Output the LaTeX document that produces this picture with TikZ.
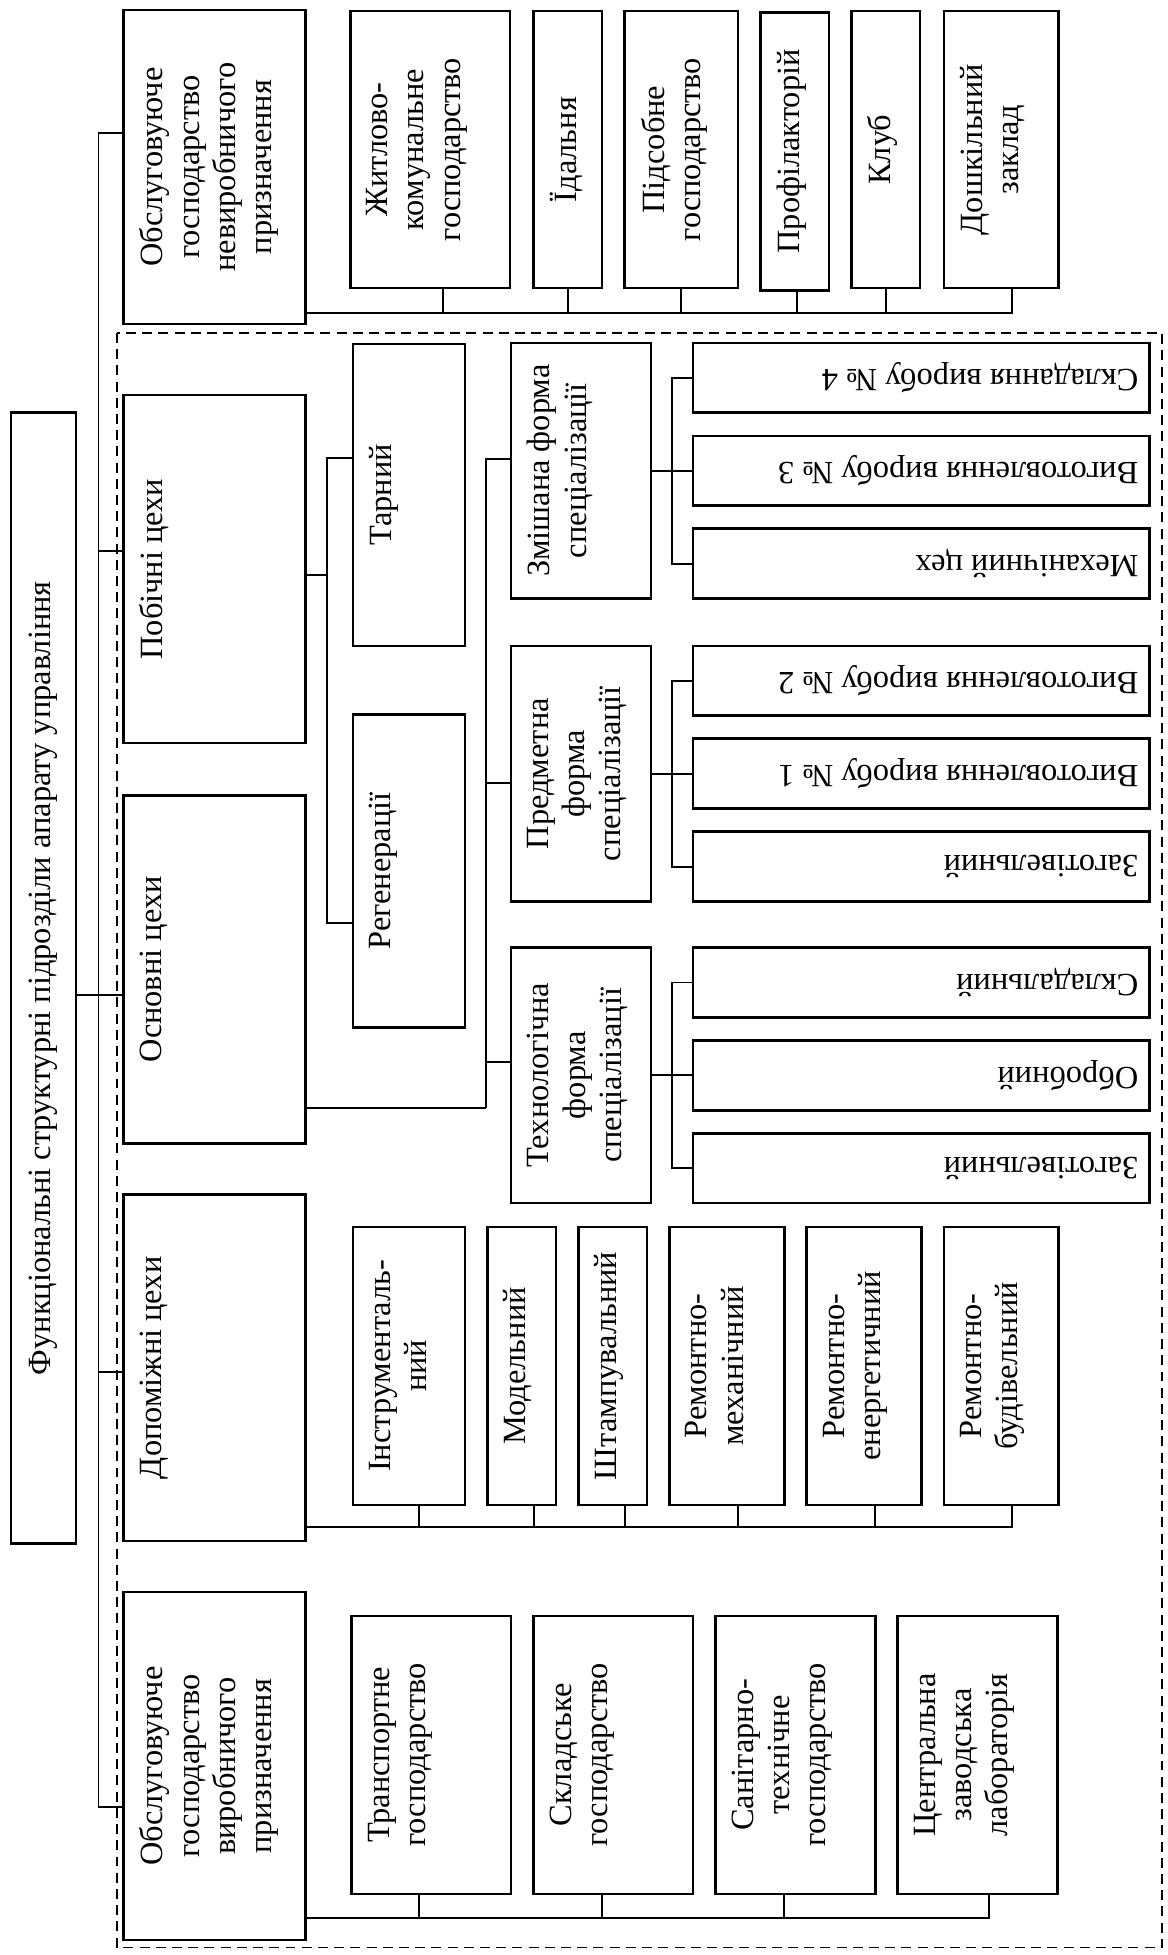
\documentclass[tikz,border=0pt]{standalone}
\usepackage{fontspec}
\setmainfont{Liberation Serif}
\usepackage{graphicx}
\usepackage{tikz}
\usetikzlibrary{positioning,calc}
\newlength{\px}\setlength{\px}{0.5pt}
% #1 length along the text, #2 thickness of the box
\newcommand{\vlab}[3]{\rotatebox{90}{\parbox[c][#2\px][t]{#1\px}{\centering\vspace*{6.5pt}#3}}}
\newcommand{\hlab}[3]{\rotatebox{180}{\parbox[c][#2\px][c]{#1\px}{\noindent\hspace*{9\px}#3}}}

\begin{document}
\begin{tikzpicture}[x=0.5pt,y=-0.5pt,
  font=\fontsize{13}{14.5}\selectfont,
  orgbox/.style={draw,line width=1pt,inner sep=0pt,anchor=north west},
  link/.style={line width=0.8pt},
  zone/.style={line width=0.6pt,dash pattern=on 4pt off 2.5pt}]
  \useasboundingbox (0,0) rectangle (936,1568);
  \draw[zone] (94,267) rectangle (932,1562);
  % title
  \node[orgbox] (title) at (8,330) {\rotatebox{90}{\parbox[c][52\px][c]{907\px}{\centering Функціональні структурні підрозділи апарату управління}}};
  % left column
  \node[orgbox] (o1) at (98,7) {\vlab{252}{146}{Обслуговуюче\\господарство\\невиробничого\\призначення}};
  \node[orgbox] (pob) at (98,316) {\vlab{279}{146}{Побічні цехи}};
  \node[orgbox] (osn) at (98,637) {\vlab{279}{146}{Основні цехи}};
  \node[orgbox] (dop) at (98,957) {\vlab{278}{146}{Допоміжні цехи}};
  \node[orgbox] (o2) at (98,1276) {\vlab{279}{146}{Обслуговуюче\\господарство\\виробничого\\призначення}};
  % top row
  \node[orgbox] (zhk) at (280,8) {\vlab{222}{128}{Житлово-\\комунальне\\господарство}};
  \node[orgbox] (idal) at (427,8) {\vlab{222}{55}{Їдальня}};
  \node[orgbox] (pids) at (500,8) {\vlab{222}{91}{Підсобне\\господарство}};
  \node[orgbox] (prof) at (609,9) {\vlab{223}{55}{Профілакторій}};
  \node[orgbox] (klub) at (682,8) {\vlab{222}{55}{Клуб}};
  \node[orgbox] (dosh) at (756,8) {\vlab{222}{92}{Дошкільний\\заклад}};
  % side shops
  \node[orgbox] (tarn) at (282,275) {\vlab{242}{90}{Тарний}};
  \node[orgbox] (regen) at (282,572) {\vlab{251}{90}{Регенерації}};
  % forms of specialisation
  \node[orgbox] (zmish) at (409,274) {\vlab{205}{112}{Змішана форма\\спеціалізації}};
  \node[orgbox] (predm) at (409,517) {\vlab{205}{112}{Предметна\\форма\\спеціалізації}};
  \node[orgbox] (tekhn) at (409,759) {\vlab{205}{112}{Технологічна\\форма\\спеціалізації}};
  \node[orgbox] (s4) at (555,274) {\hlab{366}{56}{Складання виробу № 4}};
  \node[orgbox] (v3) at (555,348.5) {\hlab{366}{56}{Виготовлення виробу № 3}};
  \node[orgbox] (mekh) at (555,423) {\hlab{366}{56}{Механічний цех}};
  \node[orgbox] (v2) at (555,517) {\hlab{366}{56}{Виготовлення виробу № 2}};
  \node[orgbox] (v1) at (555,591.5) {\hlab{366}{56}{Виготовлення виробу № 1}};
  \node[orgbox] (zag1) at (555,666) {\hlab{366}{56}{Заготівельний}};
  \node[orgbox] (skl) at (555,759) {\hlab{366}{56}{Складальний}};
  \node[orgbox] (obr) at (555,833.5) {\hlab{366}{56}{Обробний}};
  \node[orgbox] (zag2) at (555,908) {\hlab{366}{56}{Заготівельний}};
  % auxiliary shops
  \node[orgbox] (instr) at (282,983) {\vlab{223}{90}{Інструменталь-\\ний}};
  \node[orgbox] (model) at (390,983) {\vlab{223}{55}{Модельний}};
  \node[orgbox] (shtamp) at (463,983) {\vlab{223}{55}{Штампувальний}};
  \node[orgbox] (rmekh) at (536,983) {\vlab{223}{92}{Ремонтно-\\механічний}};
  \node[orgbox] (renerg) at (646,983) {\vlab{223}{92}{Ремонтно-\\енергетичний}};
  \node[orgbox] (rbud) at (756,983) {\vlab{223}{92}{Ремонтно-\\будівельний}};
  % production services
  \node[orgbox] (trans) at (281,1295) {\vlab{223}{128}{Транспортне\\господарство}};
  \node[orgbox] (sklad) at (427,1295) {\vlab{223}{128}{Складське\\господарство}};
  \node[orgbox] (sanit) at (573,1295) {\vlab{223}{128}{Санітарно-\\технічне\\господарство}};
  \node[orgbox] (tsentr) at (719,1295) {\vlab{223}{128}{Центральна\\заводська\\лабораторія}};
  % trunk
  \coordinate (trunk) at (79,107);
  \draw[link] (trunk) -- (trunk|-0,1449);
  \foreach \n/\y in {o1/107,pob/442,osn/798,dop/1100,o2/1449}
    \draw[link] (trunk|-0,\y) -- (\n.west|-0,\y);
  \draw[link] (title.east|-0,798) -- (trunk|-0,798);
  % buses
  \draw[link] (o1.east|-0,251) -| ([xshift=9\px]dosh.south);
  \foreach \n/\dx in {zhk/10,idal/0,pids/0,prof/1.5,klub/0}
    \draw[link] ([xshift=\dx\px]\n.south) -- ([xshift=\dx\px]\n.south|-0,251);
  \draw[link] (dop.east|-0,1225) -| ([xshift=9\px]rbud.south);
  \foreach \n/\dx in {instr/8,model/9.5,shtamp/9.5,rmekh/9,renerg/9}
    \draw[link] ([xshift=\dx\px]\n.south) -- ([xshift=\dx\px]\n.south|-0,1225);
  \draw[link] (o2.east|-0,1538) -| ([xshift=9\px]tsentr.south);
  \foreach \n/\dx in {trans/-10,sklad/-9,sanit/-9}
    \draw[link] ([xshift=\dx\px]\n.south) -- ([xshift=\dx\px]\n.south|-0,1538);
  % side and main shops
  \coordinate (pb) at (262,461);
  \draw[link] (pob.east|-pb) -- (pb);
  \draw[link] (tarn.west|-0,367) -| (pb) |- (regen.west|-0,740);
  \coordinate (ob) at (390,889);
  \draw[link] (osn.east|-ob) -- (ob);
  \draw[link] (zmish.west|-0,368) -| (ob);
  \draw[link] (predm.west|-0,628) -- (ob|-0,628);
  \draw[link] (tekhn.west|-0,852) -- (ob|-0,852);
  \foreach \fm/\ta/\tb/\tc in {zmish/s4/v3/mekh,predm/v2/v1/zag1,tekhn/skl/obr/zag2} {
    \draw[link] (\fm.east) -- (\tb.west);
    \draw[link] (\ta.west) -| ([xshift=16\px]\fm.east) |- (\tc.west);
  }
\end{tikzpicture}
\end{document}
